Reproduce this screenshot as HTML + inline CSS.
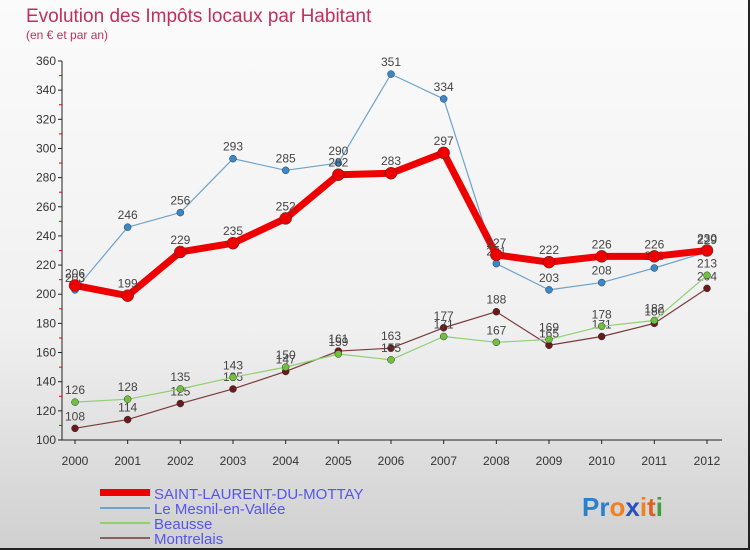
<!DOCTYPE html>
<html><head><meta charset="utf-8"><style>
body{margin:0}
#c{width:750px;height:550px;position:relative;overflow:hidden;background:linear-gradient(#fbfbfb,#f0f0f0 60%,#d0d0d0);font-family:"Liberation Sans",sans-serif;box-sizing:border-box;border-right:2px solid #222;border-bottom:2px solid #222}
svg{position:absolute;left:0;top:0}
</style></head><body>
<div id="c">
<svg id="s" width="750" height="550">
<text x="26" y="22" font-size="19" fill="#c0305a">Evolution des Impôts locaux par Habitant</text>
<text x="26" y="39" font-size="12" fill="#c0305a">(en € et par an)</text>
<g id="ax"></g><g id="lines"></g>
<g>
<rect x="100" y="489" width="50" height="7" fill="#e00"/>
<text x="154" y="499" font-size="15" fill="#5555ee">SAINT-LAURENT-DU-MOTTAY</text>
<rect x="100" y="507" width="50" height="2" fill="#6fa2cc"/>
<text x="154" y="514" font-size="15" fill="#5555ee">Le Mesnil-en-Vallée</text>
<rect x="100" y="522" width="50" height="2" fill="#90d070"/>
<text x="154" y="529" font-size="15" fill="#5555ee">Beausse</text>
<rect x="100" y="537" width="50" height="2" fill="#8a6060"/>
<text x="154" y="544" font-size="15" fill="#5555ee">Montrelais</text>
</g>
<text x="582" y="516" font-size="26" font-weight="bold"><tspan fill="#2a7fd0">Pr</tspan><tspan fill="#f08020">o</tspan><tspan fill="#2a50c0">x</tspan><tspan fill="#f08020">i</tspan><tspan fill="#e06020">t</tspan><tspan fill="#40a040">i</tspan></text>
</svg>
</div>
<script>
const years=[2000,2001,2002,2003,2004,2005,2006,2007,2008,2009,2010,2011,2012];
const yTicks=[100,120,140,160,180,200,220,240,260,280,300,320,340,360];
const slm=[206,199,229,235,252,282,283,297,227,222,226,226,230];
const mesnil=[203,246,256,293,285,290,351,334,221,203,208,218,229];
const beausse=[126,128,135,143,150,159,155,171,167,169,178,182,213];
const montrelais=[108,114,125,135,147,161,163,177,188,165,171,180,204];
const NS="http://www.w3.org/2000/svg";
const X=i=>75+i*(707-75)/12;
const Y=v=>440-(v-100)*(440-61)/260;
function mk(p,t,a){const e=document.createElementNS(NS,t);for(const k in a)e.setAttribute(k,a[k]);p.appendChild(e);return e;}
const ax=document.getElementById('ax');
let l=mk(ax,'line',{x1:62,y1:61,x2:62,y2:440,stroke:'#222'});


l=mk(ax,'line',{x1:62,y1:440,x2:722,y2:440,stroke:'#222'});


yTicks.forEach(v=>{
 const y=Y(v);
 mk(ax,'line',{x1:58,y1:y,x2:62,y2:y,stroke:'#222'});
 if(v<360)mk(ax,'line',{x1:59,y1:Y(v+10),x2:62,y2:Y(v+10),stroke:'#e00'});
 const t=mk(ax,'text',{x:56,y:y+4,'font-size':12,fill:'#333','text-anchor':'end'});
 t.textContent=v;
 
 
});
years.forEach((yr,i)=>{
 mk(ax,'line',{x1:X(i),y1:440,x2:X(i),y2:444,stroke:'#222'});
 const t=mk(ax,'text',{x:X(i),y:465,'font-size':12,fill:'#333','text-anchor':'middle'});
 t.textContent=yr;
 
 
});
const lg=document.getElementById('lines');
function series(vals,name,color,w,r,dot){
 const g=mk(lg,'g',{});
 
 
 const p=mk(g,'polyline',{points:vals.map((v,i)=>X(i)+','+Y(v)).join(' '),fill:'none',stroke:color,'stroke-width':w,'stroke-linejoin':'round'});
 
 
 vals.forEach((v,i)=>{
  const c=mk(g,'circle',{cx:X(i),cy:Y(v),r:r,fill:dot,stroke:'#333','stroke-width':0.5});
  
  
  const t=mk(g,'text',{x:X(i),y:Y(v)-8,'font-size':12,fill:'#444','text-anchor':'middle'});
  t.textContent=v;
  
  
 });
}
series(montrelais,'montrelais','#7a3a3a',1.2,3.5,'#6a1a1a');
series(beausse,'beausse','#90d070',1.2,3.5,'#70c040');
series(mesnil,'mesnil','#6fa2cc',1.2,3.5,'#3a88cc');
series(slm,'saint-laurent','#ee0000',7,6,'#ee0000');
</script>
</body></html>
